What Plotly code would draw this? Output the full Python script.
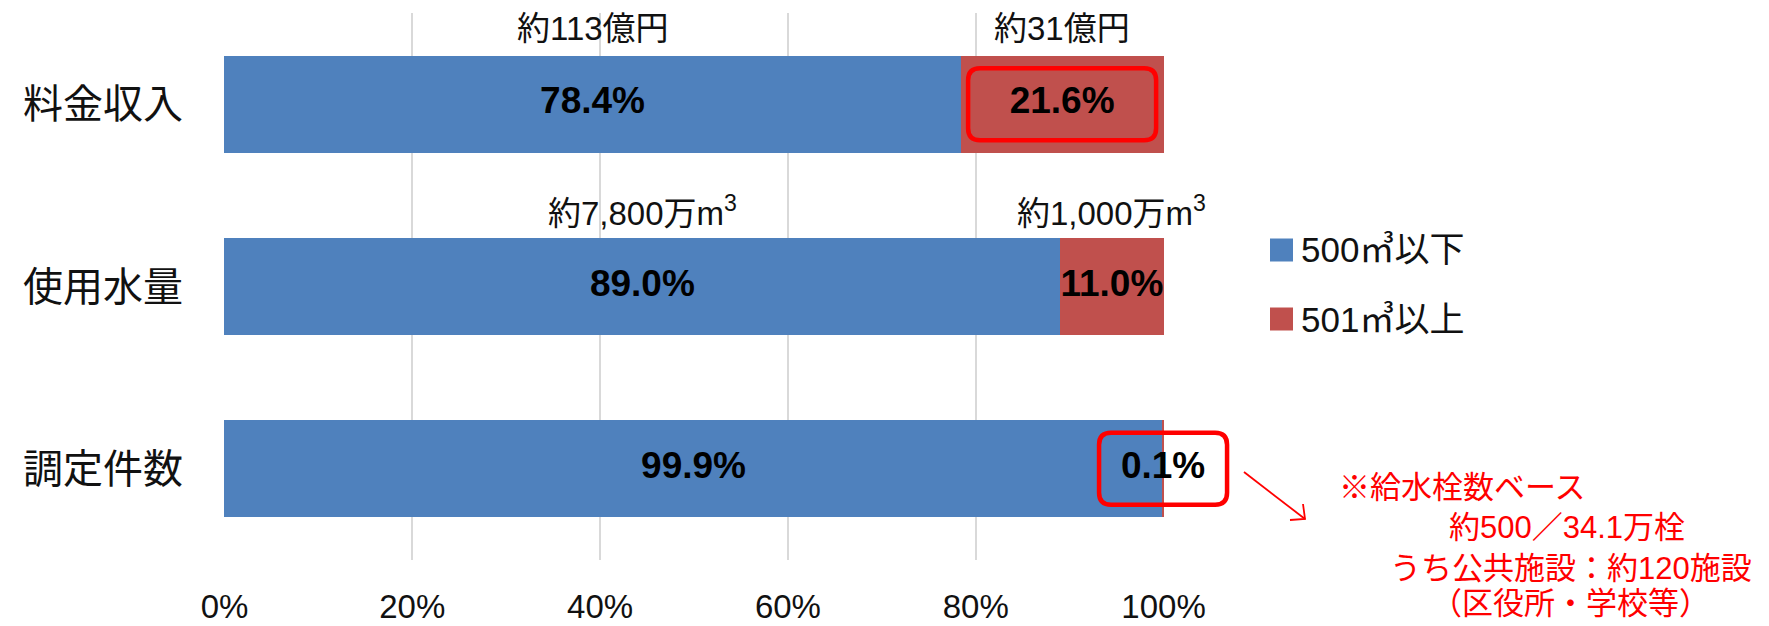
import plotly.graph_objects as go

# ---------------- data ----------------
categories = ["料金収入", "使用水量", "調定件数"]
share_500_or_less = [78.4, 89.0, 99.9]
share_501_or_more = [21.6, 11.0, 0.1]
amount_500_or_less = ["約113億円", "約7,800万m<sup>3</sup>", ""]
amount_501_or_more = ["約31億円", "約1,000万m<sup>3</sup>", ""]
series_names = ["500㎥以下", "501㎥以上"]
x_tick_values = [0, 20, 40, 60, 80, 100]
x_tick_labels = ["0%", "20%", "40%", "60%", "80%", "100%"]
boxed_labels = [("料金収入", 94), ("調定件数", 64)]  # (category, half box width px) for red-boxed 501㎥以上 labels
note_lines = ["※給水栓数ベース", "約500／34.1万栓", "うち公共施設：約120施設", "（区役所・学校等）"]

# ---------------- style / layout ----------------
PAGE_OFF = 8                 # default body margin of the html page
W, H = 1769 - PAGE_OFF, 626 - PAGE_OFF
ML, MT = 224 - PAGE_OFF, 13 - PAGE_OFF
MR = W - (1164 - PAGE_OFF)
MB = H - (560 - PAGE_OFF)
PW = W - ML - MR
PH = H - MT - MB
BLUE = "#4F81BD"
RED_BAR = "#C0504D"
RED = "#FF0000"
FONT = "Liberation Sans, Noto Sans CJK JP, sans-serif"
X_MIN, X_MAX = -0.05, 100.05


def px_x(px):  # page pixel -> paper
    return (px - PAGE_OFF - ML) / PW


def px_y(py):
    return (H - MB - (py - PAGE_OFF)) / PH


def data_x_to_px(v):  # data -> page pixel
    return PAGE_OFF + ML + (v - X_MIN) / (X_MAX - X_MIN) * PW


def row_center_px(cat):
    i = categories.index(cat)
    return PAGE_OFF + MT + (i + 0.5) * PH / len(categories)


def rounded_rect(x0, x1, y0, y1, r=12):
    rx, ry = r / PW, r / PH
    return (f"M{x0+rx},{y1} L{x1-rx},{y1} Q{x1},{y1} {x1},{y1-ry} "
            f"L{x1},{y0+ry} Q{x1},{y0} {x1-rx},{y0} L{x0+rx},{y0} "
            f"Q{x0},{y0} {x0},{y0+ry} L{x0},{y1-ry} Q{x0},{y1} {x0+rx},{y1} Z")


fig = go.Figure()
fig.add_trace(go.Bar(y=categories, x=share_500_or_less, orientation="h", name=series_names[0],
                     marker=dict(color=BLUE, line=dict(width=0)), hoverinfo="skip"))
fig.add_trace(go.Bar(y=categories, x=share_501_or_more, orientation="h", name=series_names[1],
                     marker=dict(color=RED_BAR, line=dict(width=0)), hoverinfo="skip"))

# percentage labels at segment centres
lab_x1 = [a / 2 for a in share_500_or_less]
lab_x2 = [a + b / 2 for a, b in zip(share_500_or_less, share_501_or_more)]
fig.add_trace(go.Scatter(x=lab_x1, y=categories, mode="text",
                         text=[f"<b>{v:.1f}%</b>" for v in share_500_or_less],
                         textfont=dict(family=FONT, size=37, color="black"),
                         cliponaxis=False, hoverinfo="skip", showlegend=False))
fig.add_trace(go.Scatter(x=lab_x2, y=categories, mode="text",
                         text=[f"<b>{v:.1f}%</b>" for v in share_501_or_more],
                         textfont=dict(family=FONT, size=37, color="black"),
                         cliponaxis=False, hoverinfo="skip", showlegend=False))

annotations = []
# amount labels above bars
for cat, x1, x2, t1, t2 in zip(categories, lab_x1, lab_x2, amount_500_or_less, amount_501_or_more):
    for x, t in ((x1, t1), (x2, t2)):
        if t:
            annotations.append(dict(x=x, y=cat, xref="x", yref="y", text=t, showarrow=False,
                                    yshift=76, font=dict(family=FONT, size=33, color="#111111")))

shapes = []
# red rounded boxes around highlighted labels
for cat, half_w in boxed_labels:
    i = categories.index(cat)
    cx = data_x_to_px(lab_x2[i])
    cy = row_center_px(cat)
    shapes.append(dict(type="path", xref="paper", yref="paper",
                       path=rounded_rect(px_x(cx - half_w), px_x(cx + half_w),
                                         px_y(cy + 36), px_y(cy - 36)),
                       line=dict(color=RED, width=4.5)))

# manual legend
for name, color, cy in ((series_names[0], BLUE, 250), (series_names[1], RED_BAR, 319)):
    shapes.append(dict(type="rect", xref="paper", yref="paper",
                       x0=px_x(1270), x1=px_x(1293), y0=px_y(cy + 11.5), y1=px_y(cy - 11.5),
                       fillcolor=color, line=dict(width=0)))
    annotations.append(dict(x=px_x(1299), y=px_y(cy), xref="paper", yref="paper", text=name,
                            xanchor="left", yanchor="middle", showarrow=False,
                            font=dict(family=FONT, size=35, color="#111111")))

# arrow (drawn as line + open head)
shapes.append(dict(type="line", xref="paper", yref="paper",
                   x0=px_x(1244), y0=px_y(472), x1=px_x(1305), y1=px_y(519),
                   line=dict(color=RED, width=1.8)))
shapes.append(dict(type="path", xref="paper", yref="paper",
                   path=(f"M{px_x(1290)},{px_y(520)} L{px_x(1305)},{px_y(519)} "
                         f"L{px_x(1303)},{px_y(504)}"),
                   line=dict(color=RED, width=1.8)))
# note text
for line, cx, cy in zip(note_lines, (1462, 1567, 1571, 1570), (487, 527, 568, 603)):
    annotations.append(dict(x=px_x(cx), y=px_y(cy), xref="paper", yref="paper", text=line,
                            xanchor="center", yanchor="middle", showarrow=False,
                            font=dict(family=FONT, size=31, color=RED)))

fig.update_layout(
    width=W, height=H, barmode="stack", bargap=0.468, showlegend=False,
    margin=dict(l=ML, r=MR, t=MT, b=MB, autoexpand=False),
    paper_bgcolor="white", plot_bgcolor="white",
    font=dict(family=FONT, color="#111111"),
    shapes=shapes, annotations=annotations,
    xaxis=dict(range=[X_MIN, X_MAX], tickvals=x_tick_values, ticktext=x_tick_labels,
               showgrid=True, gridcolor="#D9D9D9", gridwidth=2, zeroline=False,
               showline=False, ticks="", tickfont=dict(family=FONT, size=33, color="#111111"),
               ticklabelstandoff=24, fixedrange=True),
    yaxis=dict(type="category", categoryorder="array", categoryarray=categories,
               autorange="reversed", showgrid=False, zeroline=False, showline=False, ticks="",
               tickfont=dict(family="Noto Sans CJK JP, sans-serif", size=40, color="#111111"),
               ticklabelstandoff=40, fixedrange=True),
)

fig.write_html("out.html")
